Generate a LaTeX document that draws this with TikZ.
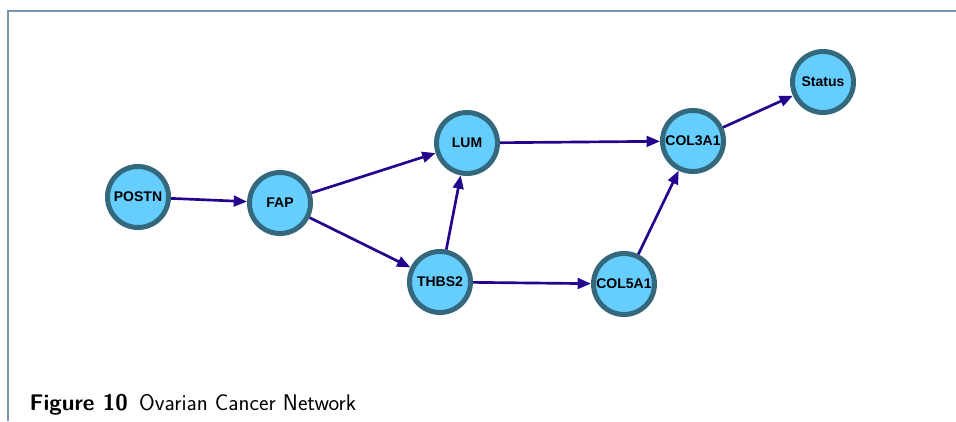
\documentclass[tikz,border=0pt]{standalone}
\usepackage{fontspec}
\newfontfamily\genefont{Liberation Sans}
\usetikzlibrary{positioning,arrows.meta}
\definecolor{genefill}{RGB}{102,206,255}
\definecolor{generim}{RGB}{52,104,124}
\definecolor{linkblue}{RGB}{36,4,140}
\definecolor{framegray}{RGB}{124,150,178}
\tikzset{
    gene/.style={circle, draw=generim, fill=genefill, line width=3.75pt,
        minimum size=45.75pt, inner sep=0pt,
        font=\genefont\bfseries\fontsize{10.5}{12}\selectfont},
    link/.style={draw=linkblue, line width=2pt,
        -{Triangle[length=10pt,width=8pt]}}
}
\begin{document}
\begin{tikzpicture}[x=0.75pt,y=-0.75pt]
\useasboundingbox (0,0) rectangle (956,421);

% frame
\draw[framegray, line width=1.5pt] (8,421) -- (8,11) -- (956,11);

\node[gene] (postn) at (138,197) {POSTN};
\node[gene] (fap) at (280,203) {FAP};
\node[gene] (lum) at (467,143) {LUM};
\node[gene] (thbs) at (440,282) {THBS2};
\node[gene] (colfive) at (624,284) {COL5A1};
\node[gene] (colthree) at (693,141) {COL3A1};
\node[gene] (status) at (823,82) {Status};

\draw[link] (postn) -- (fap);
\draw[link] (fap) -- (lum);
\draw[link] (fap) -- (thbs);
\draw[link] (thbs) -- (lum);
\draw[link] (lum) -- (colthree);
\draw[link] (thbs) -- (colfive);
\draw[link] (colfive) -- (colthree);
\draw[link] (colthree) -- (status);

\node[anchor=base west, font=\sffamily\fontsize{17}{20}\selectfont] (caption) at (25,410)
    {\textbf{Figure 10}\enspace Ovarian Cancer Network};
\end{tikzpicture}
\end{document}
